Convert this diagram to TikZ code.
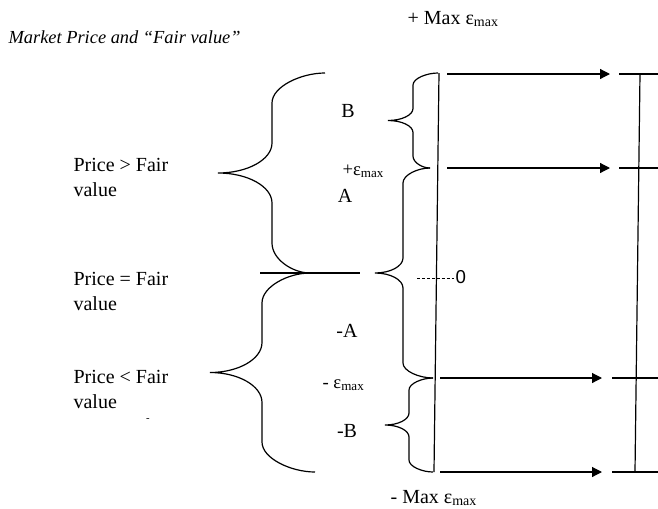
\documentclass[tikz,border=0pt]{standalone}
\usepackage{fontspec}
\setmainfont{Liberation Serif}
\setsansfont{Liberation Sans}
\usetikzlibrary{arrows.meta}
\newcommand{\emax}{ε\textsubscript{max}}
% curly brace opening right: top end x, bottom end x, spine x, tip x, top y, bottom y, curl
\newcommand{\wbrace}[7]{%
  \draw (#1,#5) .. controls ({#3+0.55*(#1-#3)},#5) and (#3,{#5+0.45*#7}) .. (#3,{#5+#7})
    -- (#3,{(#5+#6)/2-#7})
    .. controls (#3,{(#5+#6)/2-0.45*#7}) and ({#4+0.55*(#3-#4)},{(#5+#6)/2}) .. (#4,{(#5+#6)/2})
    .. controls ({#4+0.55*(#3-#4)},{(#5+#6)/2}) and (#3,{(#5+#6)/2+0.45*#7}) .. (#3,{(#5+#6)/2+#7})
    -- (#3,{#6-#7})
    .. controls (#3,{#6-0.45*#7}) and ({#3+0.55*(#2-#3)},#6) .. (#2,#6);}

\begin{document}
\begin{tikzpicture}[x=0.75pt, y=-0.75pt, line width=0.9pt,
    every node/.style={font=\fontsize{15}{18.75}\selectfont, inner sep=0pt},
    lab/.style={anchor=base},
    small/.style={anchor=base west, font=\fontsize{14}{16}\selectfont},
    side/.style={anchor=north west, align=left},
    arr/.style={-{Triangle[length=7.5pt, width=7.5pt]}}]
    \useasboundingbox (0,0) rectangle (658,508);
    \node[anchor=base west, font=\fontsize{13.8}{16}\selectfont\itshape] (title) at (8,43) {Market Price and “Fair value”};
    \node[anchor=base west] (maxtop) at (407,24) {+ Max \emax};
    \node[anchor=base west] (maxbot) at (390,503) {- Max \emax};
    % left side
    \node[side] (above) at (73,158) {Price > Fair\\value};
    \node[side] (equal) at (73,272) {Price = Fair\\value};
    \node[side] (below) at (73,370) {Price < Fair\\value};
    \node[font=\fontsize{8}{8}\selectfont] (dot) at (148,420) {-};
    % big braces
    \wbrace{325}{310}{272}{218}{73}{273}{30}
    \wbrace{310}{315}{262}{210}{273}{472}{30}
    \coordinate (fl) at (260,273);
    \coordinate (fr) at (360,273);
    \draw (fl) -- (fr);
    % labels between
    \node[lab] (B) at (348,117) {B};
    \node[small] (peps) at (342,175) {+\emax};
    \node[lab] (A) at (345,202) {A};
    \node[lab] (mA) at (347,337) {-A};
    \node[small] (meps) at (322,388) {- \emax};
    \node[lab] (mB) at (347,437) {-B};
    % small braces
    \wbrace{438}{430}{413}{388}{73}{168}{12}
    \wbrace{430}{433}{403}{375}{168}{378}{15}
    \wbrace{433}{433}{409}{385}{378}{472}{12}
    % axis
    \coordinate (axtop) at (439,73);
    \coordinate (axbot) at (434,472);
    \draw (axtop) -- (axbot);
    \coordinate (dl) at (417,278);
    \node[anchor=base west, font=\fontsize{14}{16}\sffamily] (zero) at (455,283) {0};
    \draw[line width=0.7pt, dash pattern=on 2.2pt off 1.5pt] (dl) -- (zero.west |- dl);
    % arrows to the right
    \foreach \y/\xs/\xe/\xr [count=\i] in {74/447/610/619, 168/447/610/619, 378/440/602/612, 472/440/602/612} {
        \coordinate (s\i) at (\xs,\y);
        \coordinate (e\i) at (\xe,\y);
        \coordinate (r\i) at (\xr,\y);
        \coordinate (x\i) at (658,\y);
        \draw[arr] (s\i) -- (e\i);
        \draw (r\i) -- (x\i);
    }
    \coordinate (rtop) at (640,74);
    \coordinate (rbot) at (635,472);
    \draw (rtop) -- (rbot);
\end{tikzpicture}
\end{document}
